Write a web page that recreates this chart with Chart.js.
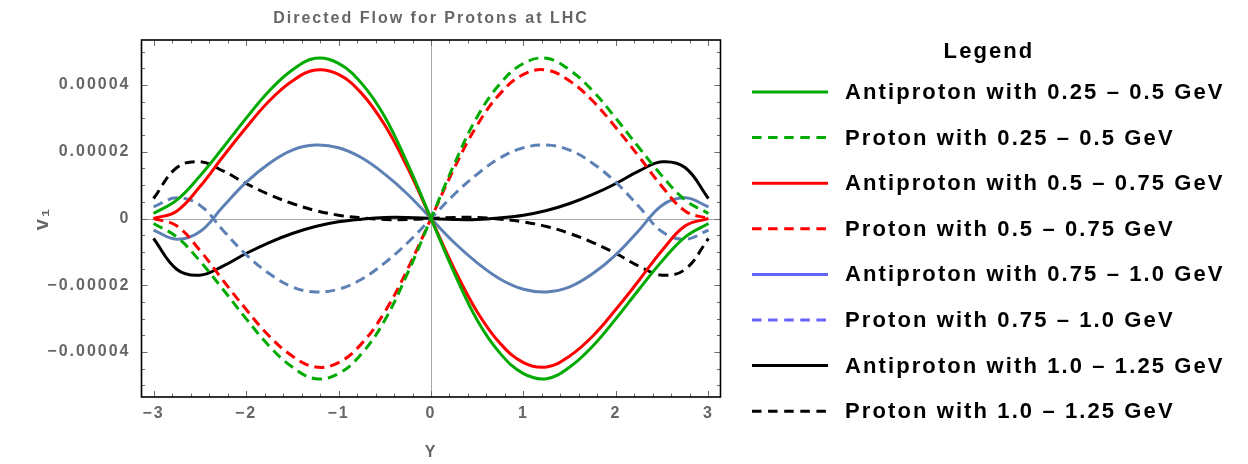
<!DOCTYPE html>
<html><head><meta charset="utf-8">
<script src="https://cdn.jsdelivr.net/npm/chart.js@4.4.1/dist/chart.umd.min.js"></script>
<style>html,body{margin:0;padding:0;background:#fff;}#wrap{position:relative;width:1248px;height:464px;}</style>
</head><body><div id="wrap"><canvas id="c" width="1248" height="464"></canvas></div>
<script>
// ---- data ----
const rapidity = [-3,-2.75,-2.5,-2.25,-2,-1.75,-1.5,-1.25,-1,-0.75,-0.5,-0.25,0,0.25,0.5,0.75,1,1.25,1.5,1.75,2,2.25,2.5,2.75,3];

const antiproton_025_05 = [0.15e-5,0.55e-5,1.27e-5,2.12e-5,3.0e-5,3.82e-5,4.45e-5,4.8e-5,4.65e-5,4.05e-5,3.05e-5,1.62e-5,0,-1.62e-5,-3.05e-5,-4.05e-5,-4.65e-5,-4.8e-5,-4.45e-5,-3.82e-5,-3.0e-5,-2.12e-5,-1.27e-5,-0.55e-5,-0.15e-5];
const proton_025_05     = [-0.15e-5,-0.55e-5,-1.27e-5,-2.12e-5,-3.0e-5,-3.82e-5,-4.45e-5,-4.8e-5,-4.65e-5,-4.05e-5,-3.05e-5,-1.62e-5,0,1.62e-5,3.05e-5,4.05e-5,4.65e-5,4.8e-5,4.45e-5,3.82e-5,3.0e-5,2.12e-5,1.27e-5,0.55e-5,0.15e-5];
const antiproton_05_075 = [0,0.22e-5,0.95e-5,1.85e-5,2.72e-5,3.52e-5,4.12e-5,4.45e-5,4.32e-5,3.75e-5,2.8e-5,1.5e-5,0,-1.5e-5,-2.8e-5,-3.75e-5,-4.32e-5,-4.45e-5,-4.12e-5,-3.52e-5,-2.72e-5,-1.85e-5,-0.95e-5,-0.22e-5,0];
const proton_05_075     = [0,-0.22e-5,-0.95e-5,-1.85e-5,-2.72e-5,-3.52e-5,-4.12e-5,-4.45e-5,-4.32e-5,-3.75e-5,-2.8e-5,-1.5e-5,0,1.5e-5,2.8e-5,3.75e-5,4.32e-5,4.45e-5,4.12e-5,3.52e-5,2.72e-5,1.85e-5,0.95e-5,0.22e-5,0];
const antiproton_075_10 = [-0.35e-5,-0.62e-5,-0.4e-5,0.35e-5,1.08e-5,1.65e-5,2.05e-5,2.2e-5,2.12e-5,1.82e-5,1.33e-5,0.72e-5,0,-0.72e-5,-1.33e-5,-1.82e-5,-2.12e-5,-2.2e-5,-2.05e-5,-1.65e-5,-1.08e-5,-0.35e-5,0.4e-5,0.62e-5,0.35e-5];
const proton_075_10     = [0.35e-5,0.62e-5,0.4e-5,-0.35e-5,-1.08e-5,-1.65e-5,-2.05e-5,-2.2e-5,-2.12e-5,-1.82e-5,-1.33e-5,-0.72e-5,0,0.72e-5,1.33e-5,1.82e-5,2.12e-5,2.2e-5,2.05e-5,1.65e-5,1.08e-5,0.35e-5,-0.4e-5,-0.62e-5,-0.35e-5];
const antiproton_10_125 = [-0.6e-5,-1.52e-5,-1.7e-5,-1.43e-5,-1.05e-5,-0.72e-5,-0.45e-5,-0.24e-5,-0.1e-5,-0.02e-5,0.03e-5,0.03e-5,0,-0.03e-5,-0.03e-5,0.02e-5,0.1e-5,0.24e-5,0.45e-5,0.72e-5,1.05e-5,1.43e-5,1.7e-5,1.52e-5,0.6e-5];
const proton_10_125     = [0.6e-5,1.52e-5,1.7e-5,1.43e-5,1.05e-5,0.72e-5,0.45e-5,0.24e-5,0.1e-5,0.02e-5,-0.03e-5,-0.03e-5,0,0.03e-5,0.03e-5,-0.02e-5,-0.1e-5,-0.24e-5,-0.45e-5,-0.72e-5,-1.05e-5,-1.43e-5,-1.7e-5,-1.52e-5,-0.6e-5];

const seriesLabels = [
  'Antiproton with 0.25 \u2013 0.5 GeV',
  'Proton with 0.25 \u2013 0.5 GeV',
  'Antiproton with 0.5 \u2013 0.75 GeV',
  'Proton with 0.5 \u2013 0.75 GeV',
  'Antiproton with 0.75 \u2013 1.0 GeV',
  'Proton with 0.75 \u2013 1.0 GeV',
  'Antiproton with 1.0 \u2013 1.25 GeV',
  'Proton with 1.0 \u2013 1.25 GeV'
];
const xTickValues = [-3,-2,-1,0,1,2,3];
const xTickLabels = ['\u22123','\u22122','\u22121','0','1','2','3'];
const yTickValues = [-4e-5,-2e-5,0,2e-5,4e-5];
const yTickLabels = ['\u22120.00004','\u22120.00002','0','0.00002','0.00004'];
const chartTitle = 'Directed Flow for Protons at LHC';
const xAxisTitle = 'Y';
const yAxisTitle = 'v\u2081';
const legendTitle = 'Legend';

// ---- styles ----
const FONT = '"Liberation Sans", Arial, Helvetica, sans-serif';
const GREEN = 'rgb(0,170,0)', RED = 'rgb(255,0,0)', STEEL = 'rgb(94,129,181)', BLUE_LEG = 'rgb(100,100,255)', BLACK = '#000';
const GREY_TXT = '#666666';
const DASH = [10, 6];

function pts(arr) { return rapidity.map((x, i) => ({ x: x, y: arr[i] })); }
function ds(label, arr, color, dashed, legendColor) {
  return {
    label: label, data: pts(arr), borderColor: color, backgroundColor: color,
    borderWidth: 3, borderDash: dashed ? DASH : [], pointRadius: 0, fill: false,
    tension: 0.4, legendColor: legendColor || color, legendDashed: dashed
  };
}

const datasets = [
  ds(seriesLabels[0], antiproton_025_05, GREEN, false),
  ds(seriesLabels[1], proton_025_05, GREEN, true),
  ds(seriesLabels[2], antiproton_05_075, RED, false),
  ds(seriesLabels[3], proton_05_075, RED, true),
  ds(seriesLabels[4], antiproton_075_10, STEEL, false, BLUE_LEG),
  ds(seriesLabels[5], proton_075_10, STEEL, true, BLUE_LEG),
  ds(seriesLabels[6], antiproton_10_125, BLACK, false),
  ds(seriesLabels[7], proton_10_125, BLACK, true)
];

const spacingPlugin = {
  id: 'spacing',
  beforeDraw(chart) { chart.ctx.letterSpacing = '2px'; }
};

const framePlugin = {
  id: 'mmaFrame',
  beforeDatasetsDraw(chart) {
    const { ctx, chartArea: a, scales: { x, y } } = chart;
    ctx.save();
    ctx.strokeStyle = '#a8a8a8'; ctx.lineWidth = 1;
    const x0 = Math.round(x.getPixelForValue(0)) + 0.5;
    const y0 = Math.round(y.getPixelForValue(0)) + 0.5;
    ctx.beginPath();
    ctx.moveTo(x0, a.top); ctx.lineTo(x0, a.bottom);
    ctx.moveTo(a.left, y0); ctx.lineTo(a.right, y0);
    ctx.stroke();
    ctx.restore();
  },
  afterDatasetsDraw(chart) {
    const { ctx, chartArea: a, scales: { x, y } } = chart;
    ctx.save();
    ctx.strokeStyle = '#6e6e6e'; ctx.lineWidth = 1;
    ctx.beginPath();
    for (let i = -15; i <= 15; i++) {
      const v = i / 5;
      const px = Math.round(x.getPixelForValue(v)) + 0.5;
      const len = (i % 5 === 0) ? 6 : 3.5;
      ctx.moveTo(px, a.bottom); ctx.lineTo(px, a.bottom - len);
      ctx.moveTo(px, a.top); ctx.lineTo(px, a.top + len);
    }
    for (let i = -10; i <= 10; i++) {
      const v = i * 0.5e-5;
      const py = Math.round(y.getPixelForValue(v)) + 0.5;
      const len = (i % 4 === 0) ? 6 : 3.5;
      ctx.moveTo(a.left, py); ctx.lineTo(a.left + len, py);
      ctx.moveTo(a.right, py); ctx.lineTo(a.right - len, py);
    }
    ctx.stroke();
    ctx.strokeStyle = '#000'; ctx.lineWidth = 1.6;
    ctx.strokeRect(a.left, a.top, a.right - a.left, a.bottom - a.top);
    ctx.restore();
  }
};

const legendPlugin = {
  id: 'sideLegend',
  afterDraw(chart) {
    const ctx = chart.ctx;
    ctx.save();
    ctx.letterSpacing = '2.1px';
    ctx.fillStyle = '#000';
    ctx.font = 'bold 22px ' + FONT;
    ctx.textAlign = 'center'; ctx.textBaseline = 'middle';
    ctx.fillText(legendTitle, 989, 52);
    ctx.textAlign = 'left';
    chart.data.datasets.forEach((d, i) => {
      const yy = 92 + i * 45.6;
      ctx.strokeStyle = d.legendColor; ctx.lineWidth = 3;
      ctx.setLineDash(d.legendDashed ? [9.5, 6.6] : []);
      ctx.beginPath(); ctx.moveTo(752, yy); ctx.lineTo(828, yy); ctx.stroke();
      ctx.setLineDash([]);
      ctx.fillText(d.label, 845, yy + 1);
    });
    ctx.restore();
  }
};

new Chart(document.getElementById('c'), {
  type: 'line',
  data: { datasets: datasets },
  options: {
    responsive: false, animation: false, devicePixelRatio: 1,
    layout: { padding: { left: 0, top: 0, right: 527.5, bottom: 0 } },
    plugins: {
      legend: { display: false },
      tooltip: { enabled: false },
      title: { display: true, text: chartTitle, fullSize: false, color: GREY_TXT,
               font: { family: FONT, size: 16, weight: 'bold' }, padding: { top: 9, bottom: 11.8 } }
    },
    scales: {
      x: {
        type: 'linear', min: -3.13, max: 3.13,
        afterBuildTicks: s => { s.ticks = xTickValues.map(v => ({ value: v })); },
        afterFit: s => { s.height = 67; },
        grid: { display: false, drawTicks: false }, border: { display: false },
        ticks: { autoSkip: false, maxRotation: 0, padding: 7, color: GREY_TXT,
                 font: { family: FONT, size: 16, weight: 'bold' },
                 callback: v => xTickLabels[xTickValues.indexOf(v)] },
        title: { display: true, text: xAxisTitle, color: GREY_TXT,
                 font: { family: FONT, size: 16, weight: 'bold' }, padding: { top: 0, bottom: 2 } }
      },
      y: {
        type: 'linear', min: -5.35e-5, max: 5.35e-5,
        afterBuildTicks: s => { s.ticks = yTickValues.map(v => ({ value: v })); },
        afterFit: s => { s.width = 141.5; },
        grid: { display: false, drawTicks: false }, border: { display: false },
        ticks: { autoSkip: false, padding: 11, color: GREY_TXT,
                 font: { family: FONT, size: 16, weight: 'bold' },
                 callback: v => yTickLabels[yTickValues.findIndex(t => Math.abs(t - v) < 1e-9)] },
        title: { display: true, text: yAxisTitle, color: GREY_TXT,
                 font: { family: FONT, size: 20, weight: 'bold' }, padding: { top: 30, bottom: 0 } }
      }
    }
  },
  plugins: [spacingPlugin, framePlugin, legendPlugin]
});
</script></body></html>
